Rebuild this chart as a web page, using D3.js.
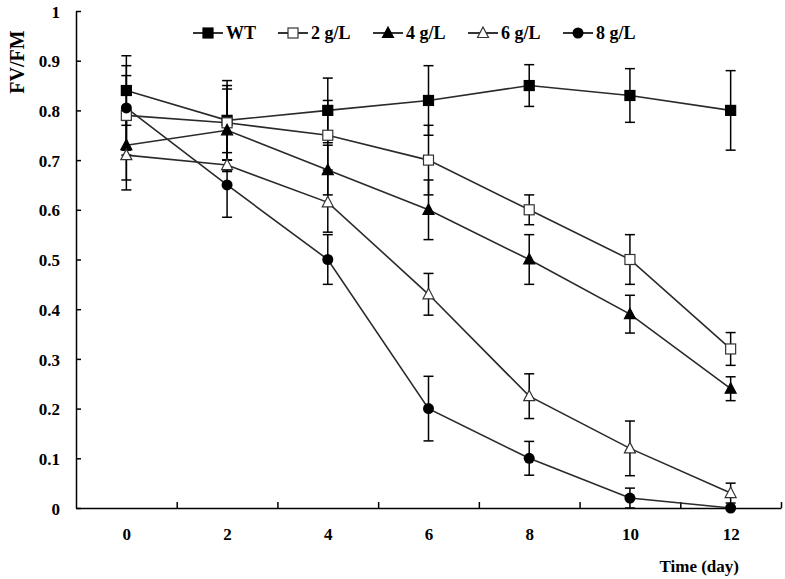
<!DOCTYPE html>
<html>
<head>
<meta charset="utf-8">
<script src="https://cdn.jsdelivr.net/npm/d3@7"></script>
<style>
  body { margin: 0; background: #fff; }
  svg { display: block; }
  text { font-family: "Liberation Serif", "Times New Roman", serif; font-weight: bold; fill: #000; }
</style>
</head>
<body>
<svg id="chart" width="785" height="579"></svg>
<script>
// ---- data ----
const days = [0, 2, 4, 6, 8, 10, 12];
const seriesNames = ["WT", "2 g/L", "4 g/L", "6 g/L", "8 g/L"];
const wtValues  = [0.84, 0.78, 0.80, 0.82, 0.85, 0.83, 0.80];
const wtErrors  = [0.07, 0.08, 0.065, 0.07, 0.042, 0.054, 0.08];
const g2Values  = [0.79, 0.775, 0.75, 0.70, 0.60, 0.50, 0.32];
const g2Errors  = [0.08, 0.075, 0.07, 0.07, 0.03, 0.05, 0.033];
const g4Values  = [0.73, 0.76, 0.68, 0.60, 0.50, 0.39, 0.24];
const g4Errors  = [0.07, 0.083, 0.05, 0.06, 0.05, 0.038, 0.024];
const g6Values  = [0.71, 0.69, 0.615, 0.43, 0.225, 0.12, 0.03];
const g6Errors  = [0.07, 0.01, 0.06, 0.042, 0.045, 0.055, 0.02];
const g8Values  = [0.805, 0.65, 0.50, 0.20, 0.10, 0.02, 0.0];
const g8Errors  = [0.085, 0.065, 0.05, 0.065, 0.034, 0.02, 0];
const yTicks = [0, 0.1, 0.2, 0.3, 0.4, 0.5, 0.6, 0.7, 0.8, 0.9, 1];
const xLabel = "Time (day)";
const yLabel = "FV/FM";

const markerTypes = ["squareFilled", "squareOpen", "triangleFilled", "triangleOpen", "circleFilled"];
const valueSets = [wtValues, g2Values, g4Values, g6Values, g8Values];
const errorSets = [wtErrors, g2Errors, g4Errors, g6Errors, g8Errors];
const series = seriesNames.map((name, i) => ({
  name, marker: markerTypes[i],
  points: days.map((d, j) => ({ day: d, v: valueSets[i][j], e: errorSets[i][j] }))
}));

// ---- layout ----
const svg = d3.select("#chart");
const plotL = 76, plotR = 781, plotT = 11, plotB = 508;
const x = d3.scaleLinear().domain([-1, 13]).range([plotL, plotR]);
const y = d3.scaleLinear().domain([0, 1]).range([plotB, plotT]);

// y axis
const yAxis = d3.axisLeft(y).tickValues(yTicks)
  .tickSizeInner(-5).tickSizeOuter(0).tickPadding(16)
  .tickFormat(d => (d === 0 || d === 1) ? d3.format("d")(d) : d3.format(".1f")(d));
const gy = svg.append("g").attr("transform", `translate(${plotL},0)`).call(yAxis);
gy.selectAll("text").style("font-size", "17px").attr("dy", "0.36em");
gy.selectAll("path, line").attr("stroke", "#000").attr("stroke-width", 1.5);

// x axis (ticks between categories)
const xAxis = d3.axisBottom(x).tickValues([1, 3, 5, 7, 9, 11, 13])
  .tickSizeInner(-6).tickSizeOuter(0).tickFormat("");
const gx = svg.append("g").attr("transform", `translate(0,${plotB})`).call(xAxis);
gx.selectAll("path, line").attr("stroke", "#000").attr("stroke-width", 1.5);
// x labels at category centers
const xLab = d3.axisBottom(x).tickValues(days).tickSize(0).tickPadding(20).tickFormat(d3.format("d"));
const gxl = svg.append("g").attr("transform", `translate(0,${plotB})`).call(xLab);
gxl.select(".domain").remove();
gxl.selectAll("text").style("font-size", "17px");

// axis titles
svg.append("text").attr("x", 739).attr("y", 572).attr("text-anchor", "end")
  .style("font-size", "17px").text(xLabel);
svg.append("text").attr("transform", "translate(24,62) rotate(-90)")
  .attr("text-anchor", "middle").style("font-size", "20px").text(yLabel);

// ---- marks ----
const line = d3.line().x(d => x(d.day)).y(d => y(d.v));
const gLines = svg.append("g");
series.forEach(s => {
  gLines.append("path").datum(s.points).attr("d", line)
    .attr("fill", "none").attr("stroke", "#2a2a2a").attr("stroke-width", 1.6);
});

const gErr = svg.append("g").attr("stroke", "#000").attr("stroke-width", 1.5);
const capW = 5;
series.forEach(s => {
  s.points.filter(p => p.e > 0).forEach(p => {
    const cx = x(p.day), y1 = y(p.v + p.e), y2 = y(p.v - p.e);
    gErr.append("line").attr("x1", cx).attr("x2", cx).attr("y1", y1).attr("y2", y2);
    gErr.append("line").attr("x1", cx - capW).attr("x2", cx + capW).attr("y1", y1).attr("y2", y1);
    gErr.append("line").attr("x1", cx - capW).attr("x2", cx + capW).attr("y1", y2).attr("y2", y2);
  });
});

function drawMarker(g, type, cx, cy) {
  if (type === "squareFilled" || type === "squareOpen") {
    g.append("rect").attr("x", cx - 5).attr("y", cy - 5).attr("width", 10).attr("height", 10)
      .attr("fill", type === "squareFilled" ? "#000" : "#fff")
      .attr("stroke", type === "squareFilled" ? "#000" : "#333").attr("stroke-width", 1.2);
  } else if (type === "triangleFilled" || type === "triangleOpen") {
    const p = [[cx, cy - 6], [cx - 5.5, cy + 4.5], [cx + 5.5, cy + 4.5]];
    g.append("path").attr("d", "M" + p.join("L") + "Z")
      .attr("fill", type === "triangleFilled" ? "#000" : "#fff")
      .attr("stroke", type === "triangleFilled" ? "#000" : "#333").attr("stroke-width", 1.2);
  } else {
    g.append("circle").attr("cx", cx).attr("cy", cy).attr("r", 5.5).attr("fill", "#000");
  }
}

const gMarks = svg.append("g");
series.forEach(s => {
  s.points.forEach(p => drawMarker(gMarks, s.marker, x(p.day), y(p.v)));
});

// ---- legend ----
const legendX = [193, 278, 373, 468, 563];
const legendY = 33;
const gLeg = svg.append("g");
series.forEach((s, i) => {
  const lx = legendX[i];
  gLeg.append("line").attr("x1", lx).attr("x2", lx + 30).attr("y1", legendY).attr("y2", legendY)
    .attr("stroke", "#000").attr("stroke-width", 1.6);
  drawMarker(gLeg, s.marker, lx + 15, legendY);
  gLeg.append("text").attr("x", lx + 33).attr("y", legendY).attr("dy", "0.35em")
    .style("font-size", "18px").text(s.name);
});
</script>
</body>
</html>
